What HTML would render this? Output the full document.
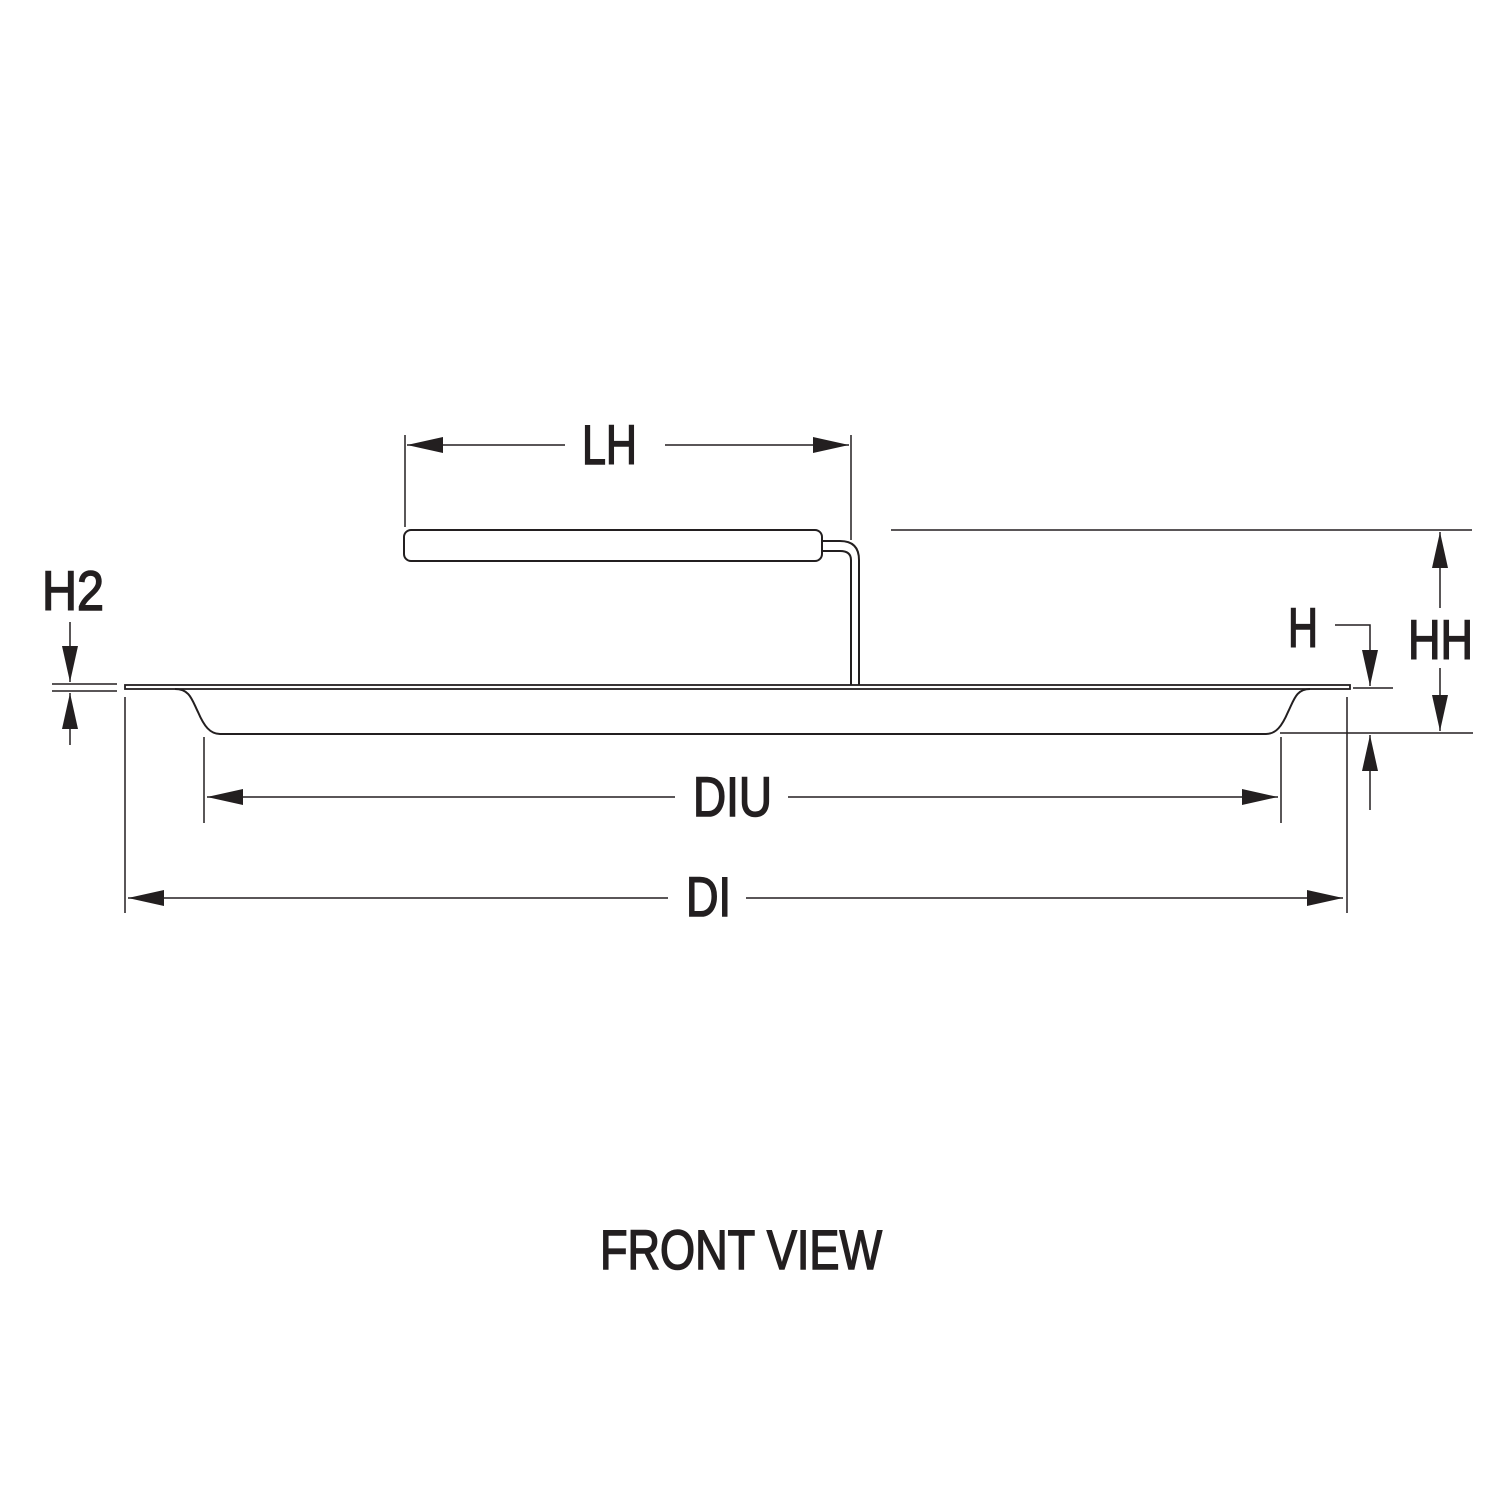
<!DOCTYPE html>
<html><head><meta charset="utf-8"><style>html,body{margin:0;padding:0;background:#fff}svg{display:block}</style></head><body>
<svg width="1500" height="1500" viewBox="0 0 1500 1500" xmlns="http://www.w3.org/2000/svg">
<defs>
<marker id="a" viewBox="0 0 36 16" refX="36" refY="8" markerWidth="36" markerHeight="16" markerUnits="userSpaceOnUse" orient="auto"><path d="M0,0 L36,8 L0,16 Z" fill="#231f20"/></marker>
</defs>
<g stroke="#231f20" fill="none" stroke-width="2">
<rect x="125" y="685" width="1225" height="4" stroke-width="1.8"/>
<path d="M175,689 C190,689 192,700 198,712 C204,726 210,734 220,734 L1266,734 C1276,734 1282,726 1288,712 C1294,700 1296,689 1310,689"/>
<rect x="404" y="530" width="418" height="31" rx="7"/>
<path d="M822,541 L840,541 Q859,541 859,560 L859,685"/>
<path d="M822,551 L840,551 Q851,551 851,560 L851,685"/>
<line x1="405" y1="435" x2="405" y2="527" stroke-width="1.5"/>
<line x1="851" y1="435" x2="851" y2="540" stroke-width="1.5"/>
<line x1="891" y1="530" x2="1472" y2="530" stroke-width="1.5"/>
<line x1="1280" y1="733" x2="1473" y2="733" stroke-width="1.5"/>
<line x1="1353" y1="688" x2="1393" y2="688" stroke-width="1.5"/>
<line x1="125" y1="697" x2="125" y2="913" stroke-width="1.5"/>
<line x1="1347" y1="697" x2="1347" y2="913" stroke-width="1.5"/>
<line x1="204" y1="737" x2="204" y2="823" stroke-width="1.5"/>
<line x1="1281" y1="737" x2="1281" y2="823" stroke-width="1.5"/>
<line x1="52" y1="684" x2="117" y2="684" stroke-width="1.5"/>
<line x1="52" y1="691" x2="117" y2="691" stroke-width="1.5"/>
<line x1="565" y1="445" x2="407" y2="445" marker-end="url(#a)" stroke-width="1.5"/>
<line x1="665" y1="445" x2="849" y2="445" marker-end="url(#a)" stroke-width="1.5"/>
<line x1="1440" y1="608" x2="1440" y2="532" marker-end="url(#a)" stroke-width="1.5"/>
<line x1="1440" y1="668" x2="1440" y2="731" marker-end="url(#a)" stroke-width="1.5"/>
<polyline points="1335,625 1370,625 1370,660" stroke-width="1.5"/>
<line x1="1370" y1="650" x2="1370" y2="686" marker-end="url(#a)" stroke-width="1.5"/>
<line x1="1370" y1="810" x2="1370" y2="735" marker-end="url(#a)" stroke-width="1.5"/>
<line x1="675" y1="797" x2="207" y2="797" marker-end="url(#a)" stroke-width="1.5"/>
<line x1="788" y1="797" x2="1278" y2="797" marker-end="url(#a)" stroke-width="1.5"/>
<line x1="668" y1="898" x2="128" y2="898" marker-end="url(#a)" stroke-width="1.5"/>
<line x1="746" y1="898" x2="1343" y2="898" marker-end="url(#a)" stroke-width="1.5"/>
<line x1="70" y1="622" x2="70" y2="682" marker-end="url(#a)" stroke-width="1.5"/>
<line x1="70" y1="745" x2="70" y2="693" marker-end="url(#a)" stroke-width="1.5"/>
</g>
<g fill="#231f20" stroke="#231f20" stroke-width="1.6" font-family="Liberation Sans, sans-serif" font-size="56">
<text x="582" y="464" textLength="55" lengthAdjust="spacingAndGlyphs">LH</text>
<text x="42" y="610" textLength="62" lengthAdjust="spacingAndGlyphs">H2</text>
<text x="1288" y="647" textLength="30" lengthAdjust="spacingAndGlyphs">H</text>
<text x="1408" y="659" textLength="65" lengthAdjust="spacingAndGlyphs">HH</text>
<text x="693" y="816" textLength="79" lengthAdjust="spacingAndGlyphs">DIU</text>
<text x="686" y="916" textLength="45" lengthAdjust="spacingAndGlyphs">DI</text>
<text x="600" y="1269" textLength="282" lengthAdjust="spacingAndGlyphs">FRONT VIEW</text>
</g>
</svg>
</body></html>
